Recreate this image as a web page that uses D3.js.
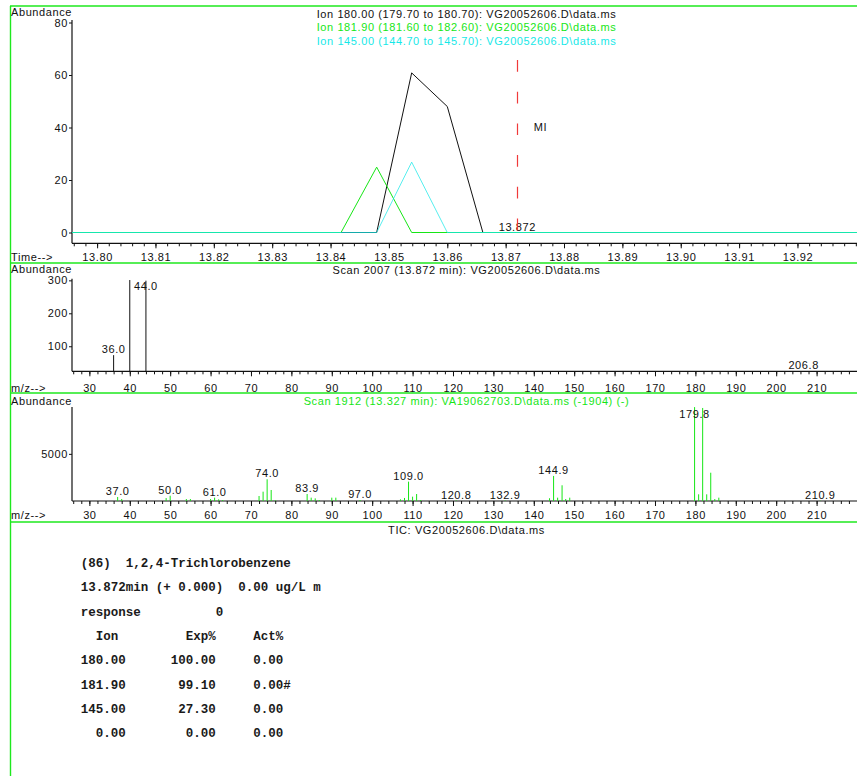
<!DOCTYPE html>
<html>
<head>
<meta charset="utf-8">
<script src="https://cdn.jsdelivr.net/npm/d3@7"></script>
<style>
  body { margin: 0; background: #fff; }
  svg text { font-family: "Liberation Sans", Arial, Helvetica, sans-serif; font-size: 11px; letter-spacing: 0.6px; fill: #111; }
  svg text.mono { font-family: "Liberation Mono", "Courier New", monospace; font-weight: bold; font-size: 12.5px; letter-spacing: 0; white-space: pre; fill: #1a1a1a; }
</style>
</head>
<body>
<svg id="chart" width="857" height="776"></svg>
<script>
// ---- Extracted ion chromatograms (retention time in min, abundance) ----
const scanTimes = [13.7957, 13.8418, 13.8479, 13.8539, 13.8600, 13.8661, 13.9302];
const ion180    = [0, 0, 0, 60.8, 48.0, 0, 0];
const ion1819   = [0, 0, 24.9, 0, 0, 0, 0];
const ion145    = [0, 0, 0, 26.8, 0, 0, 0];
const ionTitles = [
  "Ion 180.00 (179.70 to 180.70): VG20052606.D\\data.ms",
  "Ion 181.90 (181.60 to 182.60): VG20052606.D\\data.ms",
  "Ion 145.00 (144.70 to 145.70): VG20052606.D\\data.ms"
];
const chromXTicks = [13.80, 13.81, 13.82, 13.83, 13.84, 13.85, 13.86, 13.87, 13.88, 13.89, 13.90, 13.91, 13.92];
const chromYTicks = [0, 20, 40, 60, 80];
const expectedRT = 13.872;
const expectedRTLabel = "13.872";
const markerLabel = "MI";

// ---- Scan 2007 spectrum (sample) ----
const scanTitle = "Scan 2007 (13.872 min): VG20052606.D\\data.ms";
const scanMz    = [36.0, 40.0, 44.0, 206.8];
const scanAbund = [73, 301, 299, 24];
const scanLabeled = [36.0, 44.0, 206.8];
const scanYTicks = [100, 200, 300];

// ---- Scan 1912 library reference spectrum ----
const refTitle = "Scan 1912 (13.327 min): VA19062703.D\\data.ms (-1904) (-)";
const refMz = [37.0, 38.0, 49.0, 50.0, 54.0, 55.0, 60.0, 61.0, 62.0, 63.0,
               72.0, 73.0, 74.0, 75.0, 76.0, 83.9, 84.9, 85.9, 86.9, 90.0, 91.0,
               97.0, 107.0, 108.0, 109.0, 110.0, 111.0, 112.0, 120.8, 132.9,
               143.9, 144.9, 145.9, 147.0, 147.9, 148.9,
               179.8, 180.8, 181.8, 182.8, 183.8, 184.8, 185.8, 210.9];
const refAbund = [610, 400, 500, 740, 400, 400, 400, 540, 370, 300,
                  710, 1150, 2410, 1320, 270, 910, 540, 470, 300, 540, 540,
                  300, 370, 510, 2170, 640, 910, 300, 250, 250,
                  480, 2750, 540, 1800, 400, 540,
                  9760, 880, 9670, 880, 3080, 400, 540, 230];
const refLabeled = [37.0, 50.0, 61.0, 74.0, 83.9, 97.0, 109.0, 120.8, 132.9, 144.9, 179.8, 210.9];
const refYTicks = [5000];

const mzTicks = [30, 40, 50, 60, 70, 80, 90, 100, 110, 120, 130, 140, 150, 160, 170, 180, 190, 200, 210];
const ticTitle = "TIC: VG20052606.D\\data.ms";

// ---- Quantitation report ----
const reportLines = [
  "(86)  1,2,4-Trichlorobenzene",
  "13.872min (+ 0.000)  0.00 ug/L m",
  "response          0",
  "  Ion         Exp%     Act%",
  "180.00      100.00     0.00",
  "181.90       99.10     0.00#",
  "145.00       27.30     0.00",
  "  0.00        0.00     0.00"
];

// ======================= drawing =======================
const W = 857, H = 776;
const left = 72, right = 857;
const green = "#16e616", cyan = "#16e8e8", frameGreen = "#1ee81e";
const svg = d3.select("#chart");

// panel frame
const frame = svg.append("g").attr("stroke", frameGreen).attr("stroke-width", 1.4).attr("fill", "none");
[6, 263, 393, 522].forEach(y =>
  frame.append("line").attr("x1", 10).attr("x2", W).attr("y1", y).attr("y2", y));
frame.append("line").attr("x1", 10.5).attr("x2", 10.5).attr("y1", 6).attr("y2", H);

function styleAxis(g, labelY) {
  g.select(".domain").remove();
  g.selectAll("line").attr("stroke", "#111").attr("stroke-width", 1);
  g.selectAll("text").attr("font-size", null).attr("font-family", null).style("fill", "#111");
  if (labelY !== undefined) g.selectAll("text").attr("y", labelY).attr("dy", 0);
}

function axisFrame(top, bottom) {
  svg.append("line").attr("x1", left).attr("x2", left).attr("y1", top).attr("y2", bottom)
    .attr("stroke", "#111").attr("stroke-width", 1.2);
  svg.append("line").attr("x1", left).attr("x2", right).attr("y1", bottom).attr("y2", bottom)
    .attr("stroke", "#111").attr("stroke-width", 1.2);
}

// ---------- Panel 1: ion chromatograms ----------
const xT = d3.scaleLinear().domain([scanTimes[0], scanTimes[scanTimes.length - 1]]).range([left, right]);
const yC = d3.scaleLinear().domain([0, 80]).range([232.5, 22.5]);
const p1Bottom = 243.3;

svg.append("text").attr("x", 11).attr("y", 16).text("Abundance");
axisFrame(20, p1Bottom);

svg.append("g").attr("transform", `translate(${left},0)`)
  .call(d3.axisLeft(yC).tickValues(chromYTicks).tickSize(3).tickPadding(1))
  .call(g => styleAxis(g));

const minorT = d3.range(6898, 6966).map(i => i * 0.002);
svg.append("g").attr("transform", `translate(0,${p1Bottom})`)
  .call(d3.axisBottom(xT).tickValues(minorT).tickSize(3).tickFormat(""))
  .call(g => styleAxis(g));
svg.append("g").attr("transform", `translate(0,${p1Bottom})`)
  .call(d3.axisBottom(xT).tickValues(chromXTicks).tickSize(5).tickFormat(d3.format(".2f")))
  .call(g => styleAxis(g, 17.4));
svg.append("text").attr("x", 11).attr("y", 260.5).text("Time-->");

// the three traces share the zero baseline; the cyan one is slightly translucent so
// the overlapping baseline reads as a blend of the colours
const traceLine = d3.line().x((d, i) => xT(scanTimes[i])).y(d => yC(d));
[[ion180, "#111", 1], [ion1819, green, 1], [ion145, cyan, 0.72]].forEach(([vals, col, op]) => {
  svg.append("path").attr("d", traceLine(vals)).attr("fill", "none")
    .attr("stroke", col).attr("stroke-opacity", op).attr("stroke-width", 1);
});

[["#111", 17.5], [green, 31], [cyan, 44.7]].forEach(([col, y], i) => {
  svg.append("text").attr("x", 466.5).attr("y", y).attr("text-anchor", "middle")
    .style("fill", col).text(ionTitles[i]);
});

svg.append("text").attr("x", xT(expectedRT)).attr("y", 230.5).attr("text-anchor", "middle").text(expectedRTLabel);
const rtX = Math.round(xT(expectedRT)) + 0.5;
svg.append("line").attr("x1", rtX).attr("x2", rtX)
  .attr("y1", 60).attr("y2", yC(0))
  .attr("stroke", "#f03a3a").attr("stroke-width", 1.2).attr("stroke-dasharray", "11.7,20");
svg.append("text").attr("x", xT(expectedRT) + 16.5).attr("y", 130.5).text(markerLabel);

// ---------- Spectrum panels ----------
const xM = d3.scaleLinear().domain([25.7, 220]).range([left, right]);
const minorM = d3.range(26, 221, 2);

function drawSpectrum(cfg) {
  const { mz, abund, labeled, yScale, top, bottom, color, yTicks, labelY, titleY } = cfg;
  svg.append("text").attr("x", 11).attr("y", titleY).text("Abundance");
  axisFrame(top, bottom);
  svg.append("g").attr("transform", `translate(${left},0)`)
    .call(d3.axisLeft(yScale).tickValues(yTicks).tickSize(3).tickPadding(1).tickFormat(d3.format("d")))
    .call(g => styleAxis(g));
  svg.append("g").attr("transform", `translate(0,${bottom})`)
    .call(d3.axisBottom(xM).tickValues(minorM).tickSize(3).tickFormat(""))
    .call(g => styleAxis(g));
  svg.append("g").attr("transform", `translate(0,${bottom})`)
    .call(d3.axisBottom(xM).tickValues(mzTicks).tickSize(5).tickFormat(d3.format("d")))
    .call(g => styleAxis(g, labelY));
  svg.append("text").attr("x", 11).attr("y", bottom + labelY).text("m/z-->");

  const base = yScale(yScale.domain()[0]);
  svg.append("g").selectAll("line").data(mz).join("line")
    .attr("x1", d => xM(d)).attr("x2", d => xM(d))
    .attr("y1", base).attr("y2", (d, i) => yScale(abund[i]))
    .attr("stroke", color).attr("stroke-width", 1);

  svg.append("g").selectAll("text").data(labeled).join("text")
    .attr("x", d => xM(d))
    .attr("y", d => Math.max(yScale(abund[mz.indexOf(d)]) - 2, top + 11))
    .attr("text-anchor", "middle")
    .text(d => d3.format(".1f")(d));
}

// Panel 2: scan 2007
const yS = d3.scaleLinear().domain([24, 305]).range([371.3, 278.7]).clamp(true);
drawSpectrum({ mz: scanMz, abund: scanAbund, labeled: scanLabeled, yScale: yS,
  top: 278.7, bottom: 371.3, color: "#111", yTicks: scanYTicks, labelY: 20.3, titleY: 273.3 });
svg.append("text").attr("x", 466.5).attr("y", 274).attr("text-anchor", "middle").text(scanTitle);

// Panel 3: reference spectrum
const yR = d3.scaleLinear().domain([200, 9770]).range([501, 407]).clamp(true);
drawSpectrum({ mz: refMz, abund: refAbund, labeled: refLabeled, yScale: yR,
  top: 407, bottom: 501, color: green, yTicks: refYTicks, labelY: 18.3, titleY: 404.5 });
svg.append("text").attr("x", 466.5).attr("y", 405).attr("text-anchor", "middle")
  .style("fill", green).text(refTitle);

svg.append("text").attr("x", 466.5).attr("y", 534).attr("text-anchor", "middle").text(ticTitle);

// ---------- Quantitation report ----------
svg.append("g").selectAll("text").data(reportLines).join("text")
  .attr("class", "mono")
  .attr("x", 80.7)
  .attr("y", (d, i) => 567 + i * 24.35)
  .text(d => d);
</script>
</body>
</html>
